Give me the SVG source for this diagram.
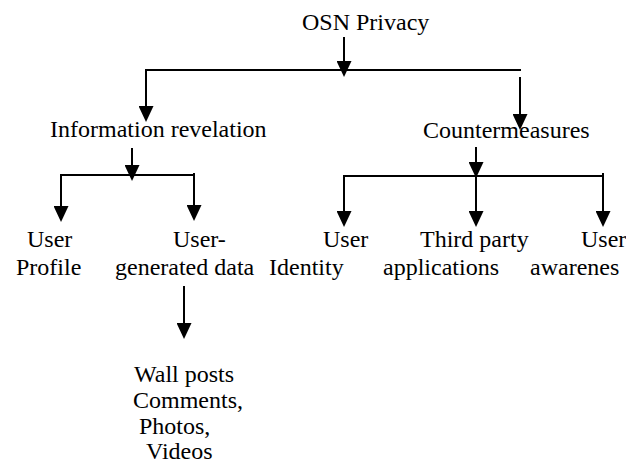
<svg xmlns="http://www.w3.org/2000/svg" width="626" height="466" viewBox="0 0 626 466">
<style>
text{font-family:"Liberation Serif","Times New Roman",serif;font-size:24px;fill:#000}
.c{fill:none;stroke:#000;stroke-width:2}
.a{marker-end:url(#ah)}
</style>
<defs>
<marker id="ah" viewBox="0 0 16 15" refX="8" refY="7.5" markerWidth="16" markerHeight="15" markerUnits="userSpaceOnUse" orient="auto">
<path d="M0,0 L16,7.5 L0,15 z" fill="#000"/>
</marker>
</defs>
<rect width="626" height="466" fill="#fff"/>
<g id="connectors">
<path class="c a" d="M344,37 V69"/>
<path class="c a" d="M521,70 H146 V114"/>
<path class="c a" d="M520,77 V122"/>
<path class="c a" d="M132,148 V173"/>
<path class="c a" d="M194,175 H61 V214"/>
<path class="c a" d="M194,173 V213"/>
<path class="c a" d="M476,147 V170"/>
<path class="c a" d="M603,176 H344 V219"/>
<path class="c a" d="M476,176 V219"/>
<path class="c a" d="M603,173 V219"/>
<path class="c a" d="M184,286 V331"/>
</g>
<g id="osn-privacy"><text x="302" y="30">OSN Privacy</text></g>
<g id="information-revelation"><text x="50" y="137">Information revelation</text></g>
<g id="countermeasures"><text x="423" y="138">Countermeasures</text></g>
<g id="user-profile"><text x="27" y="247">User</text><text x="16" y="275">Profile</text></g>
<g id="user-generated-data"><text x="173" y="247">User-</text><text x="115" y="275">generated data</text></g>
<g id="wall-posts"><text x="134" y="382">Wall posts</text><text x="133" y="408">Comments,</text><text x="139" y="434">Photos,</text><text x="146" y="459">Videos</text></g>
<g id="user-identity"><text x="323" y="247">User</text><text x="269" y="275">Identity</text></g>
<g id="third-party"><text x="420" y="247">Third  party</text><text x="383" y="275">applications</text></g>
<g id="user-awareness"><text x="581" y="247">User</text><text x="530" y="275">awarenes</text></g>
</svg>
